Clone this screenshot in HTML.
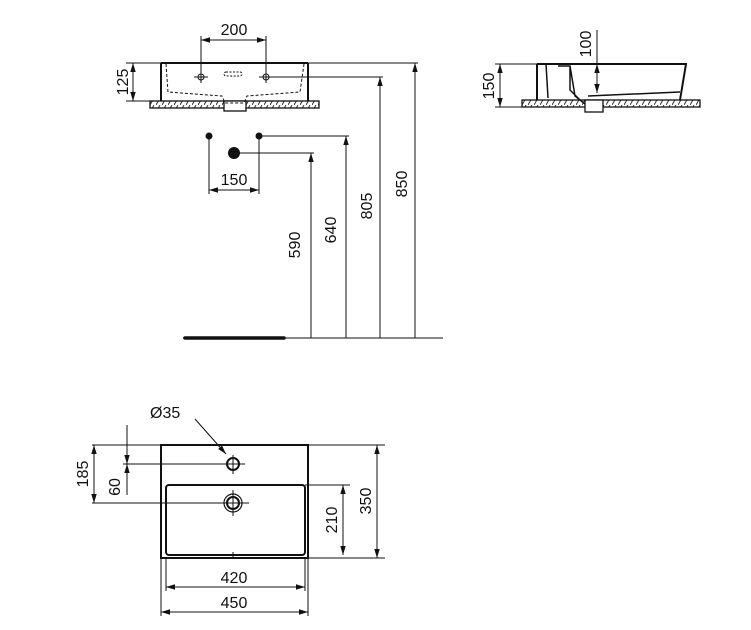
<!DOCTYPE html>
<html><head><style>body{margin:0;background:#fff}svg{display:block}text{font-family:"Liberation Sans",sans-serif;font-size:16px;fill:#111}</style></head><body>
<svg width="751" height="630" viewBox="0 0 751 630" xmlns="http://www.w3.org/2000/svg">
<defs>
<marker id="a" viewBox="0 0 10 10" refX="10" refY="5" markerWidth="9" markerHeight="9" orient="auto-start-reverse" markerUnits="userSpaceOnUse"><path d="M0,2 L10,5 L0,8 z" fill="#111"/></marker>
<pattern id="h" width="6" height="7" patternUnits="userSpaceOnUse"><rect width="6" height="7" fill="#fff"/><path d="M0,7 L4,0" stroke="#333" stroke-width="1"/></pattern>
</defs>
<g stroke="#111" fill="none" stroke-width="1">
<rect x="150" y="101" width="169" height="7" fill="url(#h)" stroke-width="1.3"/>
<rect x="224" y="101" width="22" height="10" fill="#fff" stroke-width="1.3"/>
<path d="M161,63 V101 M308,63 V101 M161,63 H308" stroke-width="2"/>
<path d="M166,64 L168,92 L222,96 L225,103 H244 L247,96 L300,92 L304,64" stroke-dasharray="3,2"/>
<rect x="224" y="72" width="18" height="4" rx="2" stroke-dasharray="2,1.5"/>
<path d="M194,77 H208 M201,72 V83 M259,77 H273 M266,72 V83"/>
<circle cx="201" cy="77" r="3"/><circle cx="266" cy="77" r="3"/>
<path d="M201,77 V36 M266,77 V36"/>
<path d="M201,40 H266" marker-start="url(#a)" marker-end="url(#a)"/>
<path d="M126,63 H161 M126,101 H150"/>
<path d="M133,63 V101" marker-start="url(#a)" marker-end="url(#a)"/>
<path d="M308,63 H418 M266,77 H383"/>
<path d="M415,338 V63" marker-end="url(#a)"/>
<path d="M380,338 V77" marker-end="url(#a)"/>
<path d="M259,136 H349"/><path d="M346,338 V136" marker-end="url(#a)"/>
<path d="M234,153 H314"/><path d="M311,338 V153" marker-end="url(#a)"/>
<path d="M209,136 V194 M259,136 V194"/>
<path d="M209,190 H259" marker-start="url(#a)" marker-end="url(#a)"/>
<path d="M183,338 H443"/>
<path d="M185,338 H284" stroke-width="3.5" stroke-linecap="round"/>
<rect x="522" y="100" width="178" height="7" fill="url(#h)" stroke-width="1.3"/>
<path d="M537,64 H686 L680,100 M537,64 V100" stroke-width="2"/>
<path d="M546,64 L548,98 M558,66 H570 L575,96 L585,104 H592 M570,66 V90 L580,100 M588,96 L680,92" stroke-width="1.5"/>
<rect x="585" y="100" width="18" height="12" fill="#fff" stroke-width="1.3"/>
<path d="M495,64 H537 M495,107 H522"/>
<path d="M500,64 V107" marker-start="url(#a)" marker-end="url(#a)"/>
<path d="M597,30 V93" />
<path d="M597,64 V93" marker-start="url(#a)" marker-end="url(#a)"/>
<rect x="161" y="445" width="147" height="113" stroke-width="2"/>
<rect x="166" y="485" width="139" height="70" rx="3" stroke-width="2"/>
<circle cx="233" cy="464" r="6" stroke-width="2"/>
<circle cx="233" cy="503" r="9" stroke-width="1.2"/><circle cx="233" cy="503" r="6" stroke-width="2"/>
<path d="M233,455 V474 M224,464 H245 M233,490 V516 M222,503 H249 M233,552 V558"/>
<path d="M195,419 L226,454" marker-end="url(#a)"/>
<path d="M92,445 H161 M92,503 H224 M123,464 H224 M308,445 H385 M305,485 H350 M308,558 H385"/>
<path d="M377,445 V558" marker-start="url(#a)" marker-end="url(#a)"/>
<path d="M343,485 V555" marker-start="url(#a)" marker-end="url(#a)"/>
<path d="M94,445 V503" marker-start="url(#a)" marker-end="url(#a)"/>
<path d="M127,425 V464" marker-end="url(#a)"/>
<path d="M127,495 V464" marker-end="url(#a)"/>
<path d="M166,558 V591 M305,558 V591 M161,558 V616 M308,558 V616"/>
<path d="M166,587 H305" marker-start="url(#a)" marker-end="url(#a)"/>
<path d="M161,612 H308" marker-start="url(#a)" marker-end="url(#a)"/>
</g>
<g stroke="none">
<circle cx="209" cy="136" r="3.5" fill="#111"/><circle cx="259" cy="136" r="3.5" fill="#111"/><circle cx="234" cy="153" r="6" fill="#111"/>
<text x="234" y="35" text-anchor="middle">200</text>
<text x="234" y="185" text-anchor="middle">150</text>
<text x="234" y="583" text-anchor="middle">420</text>
<text x="234" y="608" text-anchor="middle">450</text>
<text x="150" y="418">Ø35</text>
<text transform="translate(128,82) rotate(-90)" text-anchor="middle">125</text>
<text transform="translate(300,245) rotate(-90)" text-anchor="middle">590</text>
<text transform="translate(336,230) rotate(-90)" text-anchor="middle">640</text>
<text transform="translate(372,206) rotate(-90)" text-anchor="middle">805</text>
<text transform="translate(407,184) rotate(-90)" text-anchor="middle">850</text>
<text transform="translate(494,86) rotate(-90)" text-anchor="middle">150</text>
<text transform="translate(591,44) rotate(-90)" text-anchor="middle">100</text>
<text transform="translate(371,501) rotate(-90)" text-anchor="middle">350</text>
<text transform="translate(337,520) rotate(-90)" text-anchor="middle">210</text>
<text transform="translate(88,474) rotate(-90)" text-anchor="middle">185</text>
<text transform="translate(120,487) rotate(-90)" text-anchor="middle">60</text>
</g>
</svg>
</body></html>
